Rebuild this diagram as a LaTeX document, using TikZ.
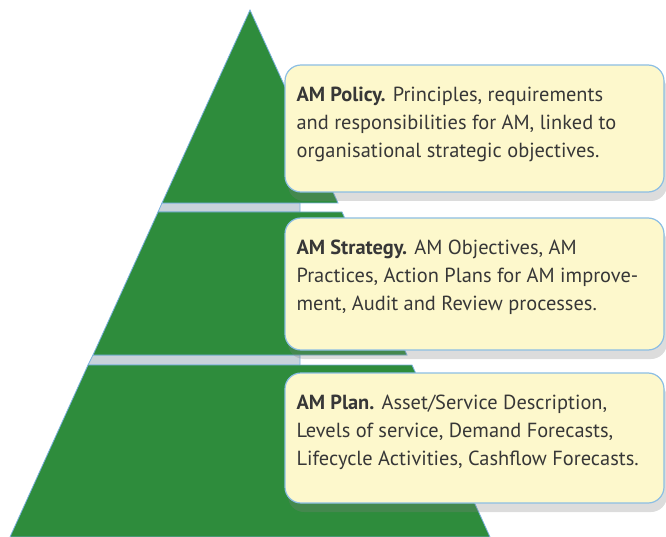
\documentclass[tikz,border=0pt]{standalone}
\usepackage{fontspec}
\setmainfont{PT Sans}
\usepackage{xcolor}
\usepackage{tikz}
\usetikzlibrary{positioning, shadows, calc}

\definecolor{tiergreen}{RGB}{46,140,60}
\definecolor{tieredge}{RGB}{120,175,220}
\definecolor{gapgrey}{RGB}{200,210,218}
\definecolor{boxfill}{RGB}{253,248,204}
\definecolor{boxedge}{RGB}{140,190,228}
\definecolor{inktext}{RGB}{55,55,55}

\begin{document}
\begin{tikzpicture}[x=1pt, y=-1pt,
  tier/.style={fill=tiergreen, draw=tieredge, line width=0.8pt},
  gapband/.style={fill=gapgrey, draw=tieredge, line width=0.8pt},
  infobox/.style={draw=boxedge, line width=1.2pt, fill=boxfill,
    rounded corners=16pt, minimum width=379pt, inner sep=0pt,
    drop shadow={shadow xshift=3pt, shadow yshift=-9pt, opacity=0.28}},
  infotext/.style={anchor=north west, align=left, inner sep=0pt,
    text=inktext, font=\fontsize{20.4}{28}\selectfont}
]
  \useasboundingbox (0,0) rectangle (666,537);

  %--- gaps between the tiers ---
  \fill[gapband] (162,203) -- (300,203) -- (300,212) -- (158,212) -- cycle;
  \fill[gapband] (93,355) -- (300,355) -- (300,365) -- (88,365) -- cycle;

  %--- pyramid tiers ---
  \draw[tier] (250,10) -- (338,203) -- (162,203) -- cycle;
  \draw[tier] (158,212) -- (342,212) -- (407,355) -- (93,355) -- cycle;
  \draw[tier] (88,365) -- (412,365) -- (490,537) -- (10,537) -- cycle;

  %--- description boxes ---
  \node[infobox, minimum height=127pt] (policy)   at (474.5,128.5) {};
  \node[infobox, minimum height=132pt] (strategy) at (474.5,284) {};
  \node[infobox, minimum height=130pt] (plan)     at (474.5,438) {};

  \node[infotext] (policytext) at ([xshift=12pt, yshift=-22pt]policy.north west)
    {\textbf{AM Policy.} Principles, requirements\\
     and responsibilities for AM, linked to\\
     organisational strategic objectives.};
  \node[infotext] (strategytext) at ([xshift=12pt, yshift=-22pt]strategy.north west)
    {\textbf{AM Strategy.} AM Objectives, AM\\
     Practices, Action Plans for AM improve-\\
     ment, Audit and Review processes.};
  \node[infotext] (plantext) at ([xshift=12pt, yshift=-22pt]plan.north west)
    {\textbf{AM Plan.} Asset/Service Description,\\
     Levels of service, Demand Forecasts,\\
     Lifecycle Activities, Cashflow Forecasts.};
\end{tikzpicture}
\end{document}
